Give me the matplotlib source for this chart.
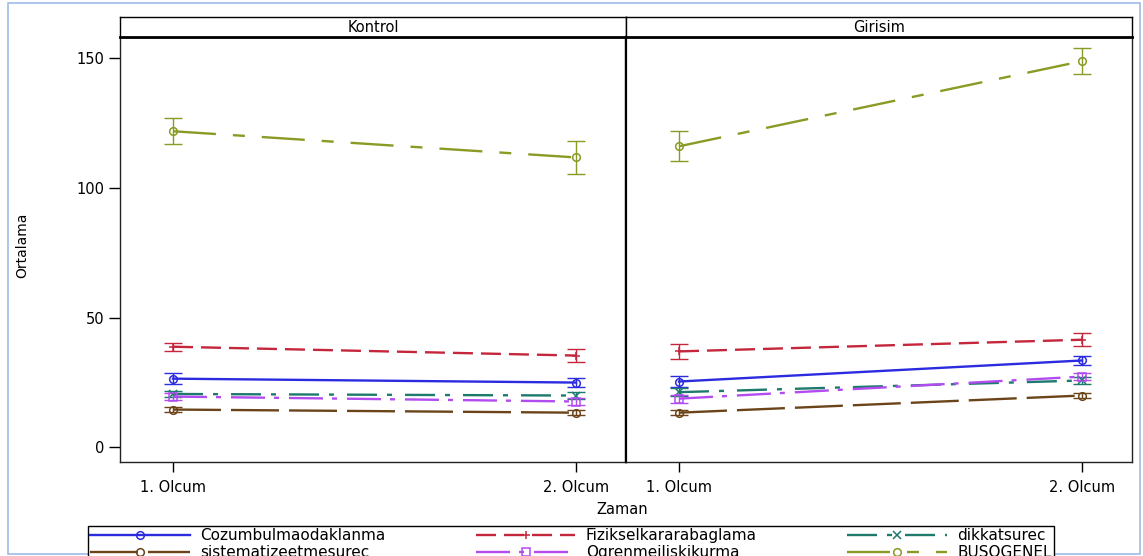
import matplotlib
matplotlib.use("Agg")
import matplotlib.pyplot as plt
from matplotlib.lines import Line2D
from matplotlib.patches import Rectangle

# data
panels = ["Kontrol", "Girisim"]
zaman = ["1. Olcum", "2. Olcum"]
series = ["Cozumbulmaodaklanma", "Fizikselkararabaglama", "dikkatsurec",
          "sistematizeetmesurec", "Ogrenmeiliskikurma", "BUSOGENEL"]

cozumbul = [[26.5, 25.0], [25.4, 33.5]]
cozumbul_err = [[2.0, 1.6], [2.0, 1.6]]
fiziksel = [[38.8, 35.4], [37.0, 41.5]]
fiziksel_err = [[1.5, 2.5], [2.8, 2.5]]
dikkat = [[20.6, 20.0], [21.3, 25.8]]
dikkat_err = [[1.3, 1.3], [1.5, 1.3]]
sistematize = [[14.6, 13.4], [13.4, 20.0]]
sistematize_err = [[1.0, 1.0], [1.0, 1.0]]
ogrenme = [[19.6, 17.7], [18.8, 27.3]]
ogrenme_err = [[1.3, 1.4], [1.5, 1.5]]
busogenel = [[121.8, 111.7], [116.0, 148.8]]
busogenel_err = [[5.0, 6.5], [5.8, 5.0]]

values = [cozumbul, fiziksel, dikkat, sistematize, ogrenme, busogenel]
errors = [cozumbul_err, fiziksel_err, dikkat_err, sistematize_err,
          ogrenme_err, busogenel_err]

colors = ["#2b2be0", "#c4263c", "#1d7a6c", "#6b4519", "#b24cf0", "#8a9a24"]
markers = ["o", "+", "x", "o", "s", "o"]
# dash patterns in points (scale_dashes off)
px = 0.72
dashes = [None,
          (0, (20 * px, 8 * px)),
          (0, (30 * px, 10 * px, 5 * px, 13 * px)),
          (0, (48 * px, 10 * px)),
          (0, (34 * px, 9 * px, 5 * px, 10 * px)),
          (0, (43 * px, 17 * px, 12 * px, 17 * px))]

plt.rcParams["font.family"] = ["DejaVu Sans"]
plt.rcParams["lines.scale_dashes"] = False

W, H = 1143, 556
fig = plt.figure(figsize=(W / 100, H / 100), dpi=100)

# outer light blue frame
fig.patches.append(Rectangle((8 / W, 1 - 554 / H), 1132 / W, 551 / H,
                             transform=fig.transFigure, fill=False,
                             edgecolor="#9dbbe6", linewidth=1.2, zorder=0))

pbottom = 1 - 462 / H
ptop = 1 - 37 / H
hdr_top = 1 - 17 / H
lefts = [120, 626]
pw = 506

axes = []
for i, name in enumerate(panels):
    ax = fig.add_axes([lefts[i] / W, pbottom, pw / W, ptop - pbottom])
    axes.append(ax)
    hx = fig.add_axes([lefts[i] / W, ptop, pw / W, hdr_top - ptop])
    hx.set_xticks([])
    hx.set_yticks([])
    hx.text(0.5, 0.5, name, ha="center", va="center", fontsize=10.5,
            transform=hx.transAxes)
    for s in hx.spines.values():
        s.set_linewidth(1.0)
    hx.spines["bottom"].set_linewidth(2.0)

    xs = [0, 1]
    for k in range(len(series)):
        y = values[k][i]
        e = errors[k][i]
        ls = "-" if dashes[k] is None else dashes[k]
        ax.errorbar(xs, y, yerr=e, fmt="none", ecolor=colors[k],
                    elinewidth=1.0, capsize=6.5, capthick=1.0, zorder=3)
        ax.plot(xs, y, color=colors[k], linestyle=ls, linewidth=1.7,
                marker=markers[k], markersize=5.5, markerfacecolor="none",
                markeredgewidth=1.1, zorder=4)

    ax.set_xlim(-0.1315, 1.124)
    ax.set_ylim(-5.6, 158.1)
    ax.set_xticks(xs)
    ax.set_xticklabels(zaman, fontsize=10.5)
    ax.tick_params(axis="x", length=7, width=1, pad=6)
    for s in ax.spines.values():
        s.set_linewidth(1.0)
        s.set_color("#222222")

axes[0].set_yticks([0, 50, 100, 150])
axes[0].tick_params(axis="y", length=8, width=1, labelsize=10.5, pad=3)
axes[0].spines["right"].set_linewidth(1.6)
axes[0].spines["right"].set_color("black")
axes[1].set_yticks([])
axes[1].spines["left"].set_linewidth(1.6)
axes[1].spines["left"].set_color("black")

fig.text(22 / W, 1 - 245 / H, "Ortalama", rotation=90, ha="center",
         va="center", fontsize=10)
fig.text(622 / W, 1 - 510 / H, "Zaman", ha="center", va="center",
         fontsize=10.5)

handles = []
for k in range(len(series)):
    ls = "-" if dashes[k] is None else dashes[k]
    handles.append(Line2D([], [], color=colors[k], linestyle=ls,
                          linewidth=1.7, marker=markers[k], markersize=5.5,
                          markerfacecolor="none", markeredgewidth=1.1))
order = [0, 3, 1, 4, 2, 5]
leg_top = 1 - 526 / H
leg = fig.legend([handles[j] for j in order], [series[j] for j in order],
                 ncol=3, loc="upper left", mode="expand",
                 bbox_to_anchor=(88 / W, leg_top - 0.06, (1054 - 88) / W, 0.06),
                 frameon=True, fancybox=False, edgecolor="black",
                 framealpha=1, borderaxespad=0, borderpad=0.15,
                 labelspacing=0.12, handlelength=6.5, handletextpad=0.7,
                 columnspacing=1.0, fontsize=11)
leg.get_frame().set_linewidth(1.0)

fig.savefig("out.png", dpi=100)
